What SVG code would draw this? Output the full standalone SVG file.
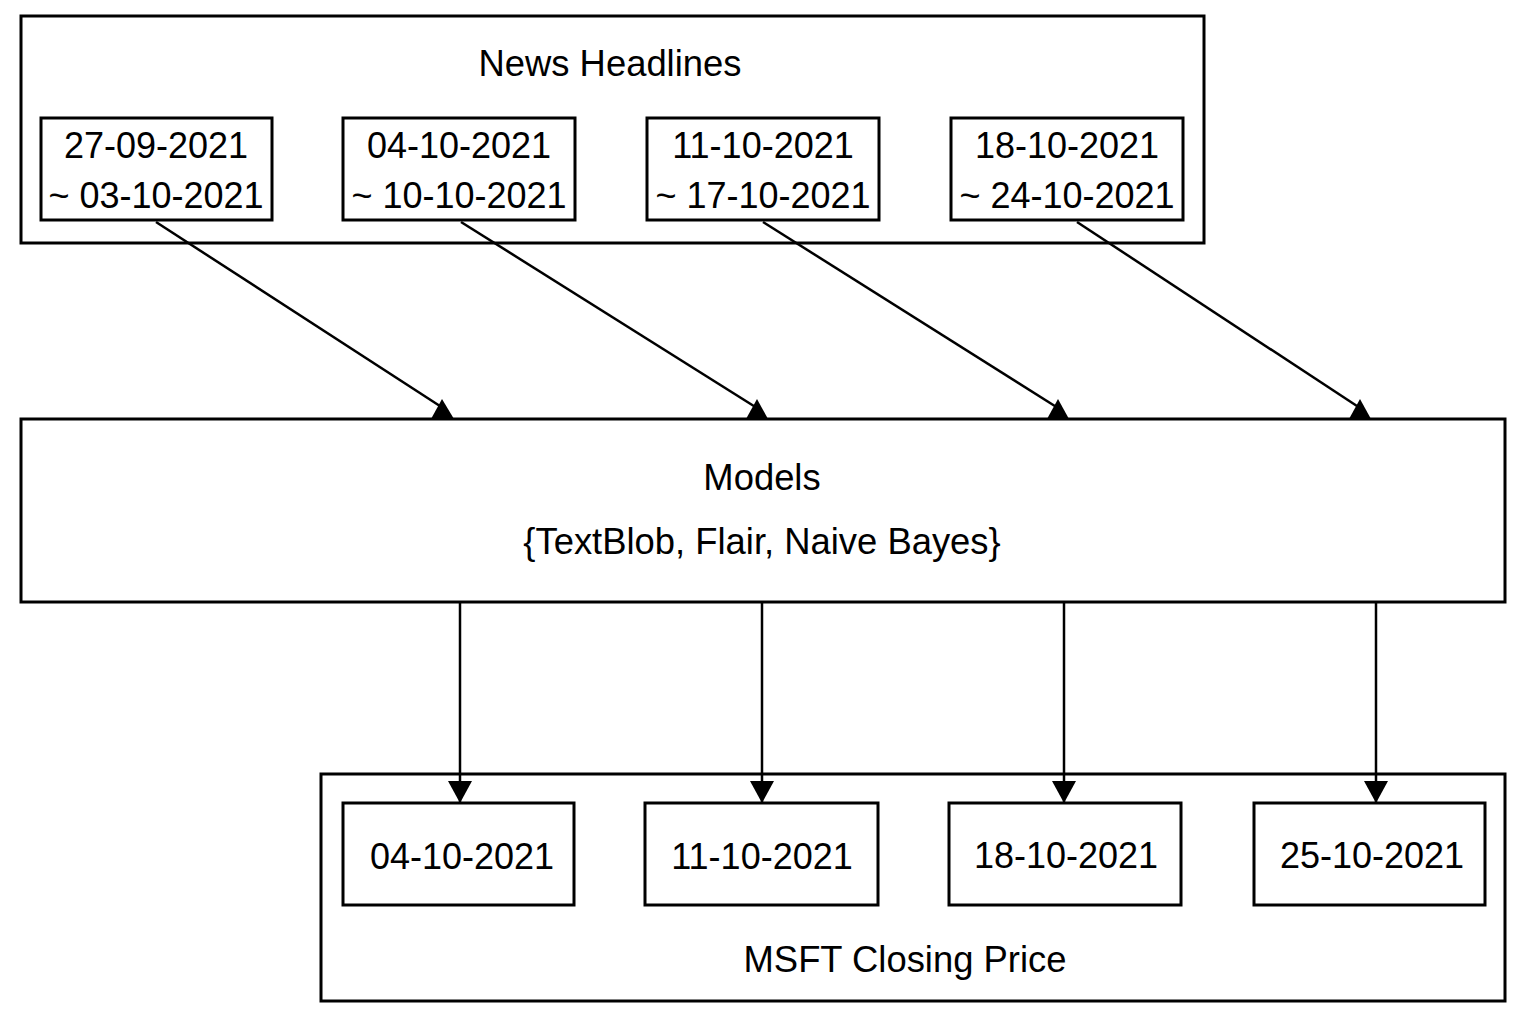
<svg xmlns="http://www.w3.org/2000/svg" width="1523" height="1022" viewBox="0 0 1523 1022">
<style>
.box{fill:#fff;stroke:#000;stroke-width:3}
.t{font-family:"Liberation Sans",Arial,sans-serif;font-size:36px;fill:#000;text-anchor:middle}
.h{font-family:"Liberation Sans",Arial,sans-serif;font-size:36.4px;fill:#000;text-anchor:middle}
.c{stroke:#000;stroke-width:2.5;fill:none}
.cd{stroke:#000;stroke-width:2.5;fill:none;marker-end:url(#ah)}
.hd{fill:#000}
</style>
<defs>
<marker id="ah" markerWidth="22" markerHeight="24" refX="22" refY="12" orient="auto" markerUnits="userSpaceOnUse" viewBox="0 0 22 24">
<path d="M0,0 L22,12 L0,24 z" fill="#000"/>
</marker>
</defs>
<rect width="1523" height="1022" fill="#fff"/>
<g id="news">
<rect class="box" x="21" y="16" width="1183" height="227"/>
<text class="h" x="610" y="76">News Headlines</text>
</g>
<g id="w1"><rect class="box" x="41" y="118" width="231" height="102"/><text class="t" x="156" y="158">27-09-2021</text><text class="t" x="156" y="208">~ 03-10-2021</text></g>
<g id="w2"><rect class="box" x="343" y="118" width="232" height="102"/><text class="t" x="459" y="158">04-10-2021</text><text class="t" x="459" y="208">~ 10-10-2021</text></g>
<g id="w3"><rect class="box" x="647" y="118" width="232" height="102"/><text class="t" x="763" y="158">11-10-2021</text><text class="t" x="763" y="208">~ 17-10-2021</text></g>
<g id="w4"><rect class="box" x="951" y="118" width="232" height="102"/><text class="t" x="1067" y="158">18-10-2021</text><text class="t" x="1067" y="208">~ 24-10-2021</text></g>
<g id="models">
<rect class="box" x="21" y="419" width="1484" height="183"/>
<text class="h" x="762" y="490">Models</text>
<text class="h" x="762" y="554">{TextBlob, Flair, Naive Bayes}</text>
</g>
<g id="msft">
<rect class="box" x="321" y="774" width="1184" height="227"/>
<text class="h" x="905" y="972">MSFT Closing Price</text>
</g>
<g id="d1"><rect class="box" x="343" y="803" width="231" height="102"/><text class="t" x="462" y="869">04-10-2021</text></g>
<g id="d2"><rect class="box" x="645" y="803" width="233" height="102"/><text class="t" x="762" y="869">11-10-2021</text></g>
<g id="d3"><rect class="box" x="949" y="803" width="232" height="102"/><text class="t" x="1066" y="868">18-10-2021</text></g>
<g id="d4"><rect class="box" x="1254" y="803" width="231" height="102"/><text class="t" x="1372" y="868">25-10-2021</text></g>
<g id="connectors">
<line class="c" x1="156" y1="222" x2="443" y2="408"/>
<polygon class="hd" points="431,419 442,399 454,419"/>
<line class="c" x1="461" y1="222" x2="757" y2="408"/>
<polygon class="hd" points="746,419 757,399 768,419"/>
<line class="c" x1="763" y1="222" x2="1058" y2="408"/>
<polygon class="hd" points="1047,419 1058,399 1069,419"/>
<line class="c" x1="1077" y1="222" x2="1360" y2="408"/>
<polygon class="hd" points="1349,419 1360,399 1371,419"/>
<line class="cd" x1="460" y1="602" x2="460" y2="803"/>
<line class="cd" x1="762" y1="602" x2="762" y2="803"/>
<line class="cd" x1="1064" y1="602" x2="1064" y2="803"/>
<line class="cd" x1="1376" y1="602" x2="1376" y2="803"/>
</g>
</svg>
